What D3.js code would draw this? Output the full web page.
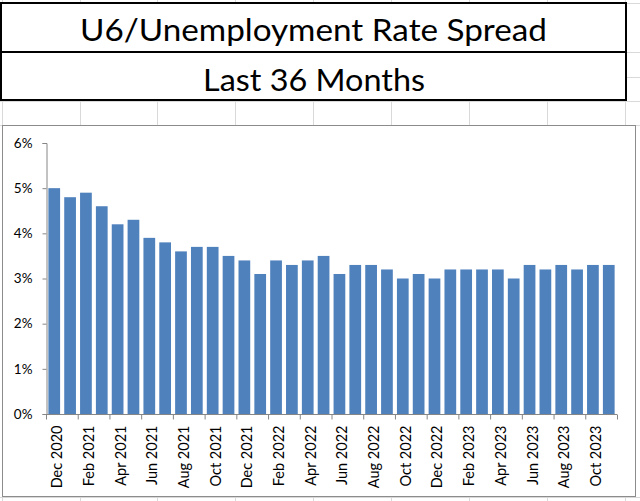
<!DOCTYPE html>
<html><head><meta charset="utf-8">
<script src="https://cdn.jsdelivr.net/npm/d3@7"></script>
<style>body{margin:0;background:#fff}svg{display:block}</style>
</head><body>
<script>
const months = ["Dec 2020","Jan 2021","Feb 2021","Mar 2021","Apr 2021","May 2021","Jun 2021","Jul 2021","Aug 2021","Sep 2021","Oct 2021","Nov 2021",
"Dec 2021","Jan 2022","Feb 2022","Mar 2022","Apr 2022","May 2022","Jun 2022","Jul 2022","Aug 2022","Sep 2022","Oct 2022","Nov 2022",
"Dec 2022","Jan 2023","Feb 2023","Mar 2023","Apr 2023","May 2023","Jun 2023","Jul 2023","Aug 2023","Sep 2023","Oct 2023","Nov 2023"];
const spread = [5.0,4.8,4.9,4.6,4.2,4.3,3.9,3.8,3.6,3.7,3.7,3.5,
3.4,3.1,3.4,3.3,3.4,3.5,3.1,3.3,3.3,3.2,3.0,3.1,
3.0,3.2,3.2,3.2,3.2,3.0,3.3,3.2,3.3,3.2,3.3,3.3];
const yTicks = [0,1,2,3,4,5,6];
const titleLines = ["U6/Unemployment Rate Spread","Last 36 Months"];

const W=640,H=501;
const svg=d3.select("body").append("svg").attr("width",W).attr("height",H);
const font="Lato, 'Open Sans', sans-serif";

// spreadsheet gridlines
const grid=svg.append("g").attr("stroke","#d9d9d9").attr("stroke-width",1);
[2,80,157,235,313,391,469,547,625].forEach(x=>grid.append("line").attr("x1",x+0.5).attr("x2",x+0.5).attr("y1",0).attr("y2",H));
[3,52,77,101,125,497].forEach(y=>grid.append("line").attr("x1",0).attr("x2",W).attr("y1",y+0.5).attr("y2",y+0.5));

// title boxes
svg.append("rect").attr("x",1).attr("y",3).attr("width",625).attr("height",97).attr("fill","#fff").attr("stroke","#000").attr("stroke-width",2);
svg.append("line").attr("x1",1).attr("x2",626).attr("y1",52).attr("y2",52).attr("stroke","#000").attr("stroke-width",2);
svg.append("text").attr("x",313.5).attr("y",41).attr("text-anchor","middle").attr("font-family",font).attr("font-size",30)
  .attr("textLength",467).attr("lengthAdjust","spacingAndGlyphs").attr("fill","#000").text(titleLines[0]);
svg.append("text").attr("x",314).attr("y",91).attr("text-anchor","middle").attr("font-family",font).attr("font-size",30)
  .attr("textLength",222).attr("lengthAdjust","spacingAndGlyphs").attr("fill","#000").text(titleLines[1]);

// chart area
svg.append("rect").attr("x",2.5).attr("y",125.5).attr("width",633).attr("height",371).attr("fill","#fff").attr("stroke","#8c8c8c").attr("stroke-width",1);

const m={l:46,r:617,t:143,b:414};
const x=d3.scaleBand().domain(months).range([m.l,m.r]).paddingInner(0.26).paddingOuter(0.15);
const y=d3.scaleLinear().domain([0,6]).range([m.b,m.t]);

svg.append("g").selectAll("rect").data(spread).join("rect")
 .attr("x",(d,i)=>x(months[i])).attr("width",x.bandwidth())
 .attr("y",d=>y(d)).attr("height",d=>y(0)-y(d)).attr("fill","#4f81bd");

// y axis
const ya=svg.append("g").attr("transform",`translate(${m.l+0.5},0)`)
 .call(d3.axisLeft(y).tickValues(yTicks).tickFormat(d=>d+"%").tickSize(4).tickPadding(10));
ya.select(".domain").attr("stroke","#868686");
ya.selectAll(".tick line").attr("stroke","#868686");
ya.selectAll("text").attr("font-family",font).attr("font-size",13.5).attr("fill","#000");

// x axis
const step=x.step();
const xa=svg.append("g").attr("transform",`translate(0,${m.b+0.5})`);
xa.append("line").attr("x1",m.l).attr("x2",m.r).attr("stroke","#868686");
const tickIdx=d3.range(0,months.length+1,2);
xa.selectAll(".tk").data(tickIdx).join("line").attr("class","tk")
 .attr("x1",i=>m.l+i*(m.r-m.l)/months.length+0.5).attr("x2",i=>m.l+i*(m.r-m.l)/months.length+0.5).attr("y1",0).attr("y2",5).attr("stroke","#868686");
xa.selectAll(".lb").data(months.filter((d,i)=>i%2===0)).join("text").attr("class","lb")
 .attr("transform",d=>`translate(${x(d)+x.bandwidth()/2+8},11) rotate(-90)`)
 .attr("text-anchor","end").attr("font-family",font).attr("font-size",14.5).attr("fill","#000").text(d=>d);
</script>
</body></html>
